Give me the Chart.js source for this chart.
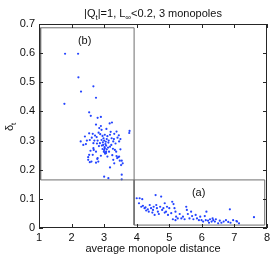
<!DOCTYPE html>
<html>
<head>
<meta charset="utf-8">
<script src="https://cdn.jsdelivr.net/npm/chart.js@4.4.1/dist/chart.umd.min.js"></script>
<style>
  body { margin: 0; background: #fff; }
  canvas { display: block; }
</style>
</head>
<body>
<canvas id="c" width="274" height="256"></canvas>
<script>
// cluster (b): large delta, short distance
const clusterB = [
  [1.80,0.598],[2.20,0.598],[2.21,0.517],[2.67,0.486],[2.29,0.468],[2.75,0.447],[1.78,0.426],
  [2.54,0.397],[2.59,0.385],[2.80,0.378],[2.90,0.381],[2.75,0.355],[3.17,0.359],[3.24,0.362],
  [3.77,0.326],[3.78,0.333],
  [3.00,0.176],[3.13,0.171],[3.54,0.183],[3.54,0.167],
  [2.51,0.243],[2.56,0.226],[2.75,0.224],[2.79,0.237],[3.18,0.208],[3.31,0.222],[3.43,0.243],
  [3.48,0.231],[3.52,0.216],[3.57,0.222],[3.38,0.247],[3.02,0.259],[2.65,0.251],
  [2.85,0.343],[2.92,0.337],[3.38,0.331],[3.31,0.323],[2.54,0.325],[2.65,0.323],[2.41,0.314],
  [2.72,0.317],[2.77,0.312],[2.95,0.316],[3.02,0.320],[3.18,0.320],[3.50,0.305],[3.46,0.297],
  [2.28,0.297],[2.36,0.285],[2.56,0.302],[2.67,0.291],[2.80,0.300],[2.87,0.291],[2.92,0.302],
  [3.08,0.305],[3.13,0.293],[3.23,0.308],[3.28,0.297],[2.97,0.285],[3.02,0.274],[3.00,0.268],
  [3.06,0.262],[3.06,0.257],[3.18,0.279],[3.33,0.268],[3.46,0.245],[2.67,0.274],[2.75,0.262],
  [2.54,0.251],[2.51,0.234],[2.61,0.228],[2.80,0.240],[2.82,0.228],[3.28,0.234],[3.40,0.240],
  [3.54,0.231],
  [2.88,0.322],[2.98,0.308],[3.05,0.296],[3.10,0.315],[2.93,0.283],[3.04,0.288],[3.12,0.276],
  [2.99,0.262],[3.03,0.255],[3.08,0.270],[2.95,0.271],[3.15,0.262],[3.22,0.285],[3.27,0.272],
  [2.84,0.281],[2.70,0.300],[2.62,0.310],[2.47,0.300],[2.44,0.288],[3.35,0.290],[3.41,0.310],
  [3.45,0.318],[3.30,0.305],[3.20,0.330],[2.90,0.350],[3.07,0.340],[2.83,0.327],[2.68,0.268],
  [2.58,0.265],[3.25,0.250],[3.10,0.245],[2.90,0.248],[3.37,0.262],[3.50,0.270],[2.78,0.290],
  [3.00,0.300],[3.14,0.300],[2.96,0.294],[3.01,0.278],[3.06,0.283]
];

// cluster (a): small delta, long distance
const clusterA = [
  [4.00,0.102],[4.09,0.102],[4.17,0.099],[4.19,0.076],[4.24,0.068],[4.29,0.060],[4.34,0.064],
  [4.37,0.056],[4.44,0.068],[4.50,0.062],[4.52,0.073],[4.58,0.113],[4.60,0.079],[4.62,0.068],
  [4.65,0.056],[4.68,0.048],[4.72,0.073],[4.75,0.108],[4.78,0.062],[4.82,0.068],[4.86,0.053],
  [4.90,0.056],[4.96,0.045],[5.00,0.068],[5.09,0.090],[5.13,0.082],[5.16,0.068],[5.19,0.056],
  [5.21,0.039],[5.26,0.033],[5.32,0.048],[5.37,0.033],[5.42,0.039],[5.47,0.030],[5.52,0.073],
  [5.54,0.062],[5.57,0.048],[5.62,0.033],[5.67,0.056],[5.70,0.041],[5.74,0.030],[5.81,0.045],
  [5.85,0.033],[5.91,0.027],[5.95,0.039],
  [4.07,0.085],[4.14,0.073],[4.40,0.079],[4.48,0.053],[4.55,0.045],[4.27,0.071],[4.86,0.085],
  [4.93,0.073],[5.06,0.051],[5.11,0.030],[5.19,0.027],
  [6.14,0.056],[6.09,0.041],[6.12,0.027],[6.19,0.025],[6.25,0.030],[6.30,0.022],[6.35,0.027],
  [6.40,0.022],[6.22,0.018],[6.04,0.022],[5.99,0.027],[6.33,0.033],[6.55,0.025],[6.60,0.018],
  [6.67,0.022],[6.74,0.027],[6.86,0.064],[6.88,0.018],[6.81,0.021],[7.08,0.022],[7.14,0.016],
  [7.60,0.037],[6.50,0.016],[6.43,0.030],[6.96,0.027],[7.06,0.024]
];

// region outlines [xmin, xmax, ymin, ymax]
const regionB = [1.05, 3.92, 0.165, 0.687];
const regionA = [3.92, 7.93, 0.010, 0.165];
const regionLabels = [['(b)', 2.4, 0.645], ['(a)', 5.9, 0.122]];

const xTicks = [1, 2, 3, 4, 5, 6, 7, 8];
const yTicks = [0, 0.1, 0.2, 0.3, 0.4, 0.5, 0.6, 0.7];

const FONT = 'Liberation Sans, Arial, sans-serif';

function toPts(list) {
  return list.map(p => ({ x: p[0], y: p[1] }));
}
function rect(r) {
  return [
    { x: r[0], y: r[2] }, { x: r[1], y: r[2] }, { x: r[1], y: r[3] },
    { x: r[0], y: r[3] }, { x: r[0], y: r[2] }
  ];
}

// text, ticks and frame in matlab style
const decor = {
  id: 'decor',
  afterDraw(chart) {
    const c = chart.ctx;
    const a = chart.chartArea;
    const xs = chart.scales.x, ys = chart.scales.y;
    c.save();
    c.strokeStyle = '#262626';
    c.lineWidth = 1;
    c.strokeRect(a.left + 0.5, a.top + 0.5, a.right - a.left - 1, a.bottom - a.top - 1);
    c.beginPath();
    xTicks.forEach(v => {
      const px = Math.round(xs.getPixelForValue(v)) + 0.5;
      c.moveTo(px, a.bottom); c.lineTo(px, a.bottom - 4);
      c.moveTo(px, a.top); c.lineTo(px, a.top + 4);
    });
    yTicks.forEach(v => {
      const py = Math.round(ys.getPixelForValue(v)) + 0.5;
      c.moveTo(a.left, py); c.lineTo(a.left + 4, py);
      c.moveTo(a.right, py); c.lineTo(a.right - 4, py);
    });
    c.stroke();

    c.fillStyle = '#111';
    c.textBaseline = 'alphabetic';
    // labels inside the region boxes
    c.font = '11px ' + FONT;
    c.textAlign = 'center';
    regionLabels.forEach(l => {
      c.fillText(l[0], xs.getPixelForValue(l[1]), ys.getPixelForValue(l[2]) + 4);
    });

    // title with subscripts
    const parts = [['|Q', 0], ['t', 1], ['|=1, L', 0], ['\u221e', 1], ['<0.2, 3 monopoles', 0]];
    let w = 0;
    parts.forEach(p => {
      c.font = (p[1] ? '8px ' : '11px ') + FONT;
      w += c.measureText(p[0]).width;
    });
    let x = (a.left + a.right) / 2 - w / 2;
    c.textAlign = 'left';
    parts.forEach(p => {
      c.font = (p[1] ? '8px ' : '11px ') + FONT;
      c.fillText(p[0], x, p[1] ? 20 : 17);
      x += c.measureText(p[0]).width;
    });

    // x axis title
    c.font = '11px ' + FONT;
    c.textAlign = 'center';
    c.fillText('average monopole distance', (a.left + a.right) / 2, 252);

    // y axis title
    c.translate(13, (a.top + a.bottom) / 2);
    c.rotate(-Math.PI / 2);
    c.font = '11px ' + FONT;
    c.textAlign = 'left';
    const dw = c.measureText('\u03b4').width;
    c.fillText('\u03b4', -dw / 2 - 2, 0);
    c.font = '8px ' + FONT;
    c.fillText('t', dw / 2 - 2, 3);
    c.restore();
  }
};

const boxStyle = {
  type: 'line', borderColor: '#6e6e6e', borderWidth: 1, pointRadius: 0,
  fill: false, tension: 0, showLine: true
};

new Chart(document.getElementById('c'), {
  type: 'scatter',
  data: {
    datasets: [
      Object.assign({ data: rect(regionB) }, boxStyle),
      Object.assign({ data: rect(regionA) }, boxStyle),
      { data: toPts(clusterB), backgroundColor: '#2444ff', borderWidth: 0, pointRadius: 1.1 },
      { data: toPts(clusterA), backgroundColor: '#2444ff', borderWidth: 0, pointRadius: 1.1 }
    ]
  },
  options: {
    responsive: false,
    animation: false,
    events: [],
    layout: { padding: { top: 24, right: 7, left: 0, bottom: 0 } },
    plugins: { legend: { display: false }, tooltip: { enabled: false }, title: { display: false } },
    scales: {
      x: {
        type: 'linear', min: 1, max: 8,
        grid: { display: false, drawTicks: false, tickLength: 0 }, border: { display: false },
        ticks: { stepSize: 1, padding: 3, color: '#111', font: { family: FONT, size: 11 } },
        afterFit: s => { s.height = 28; }
      },
      y: {
        type: 'linear', min: 0, max: 0.7,
        grid: { display: false, drawTicks: false, tickLength: 0 }, border: { display: false },
        ticks: {
          stepSize: 0.1, padding: 4, color: '#111', font: { family: FONT, size: 11 },
          callback: v => String(+v.toFixed(1))
        },
        afterFit: s => { s.width = 39; }
      }
    }
  },
  plugins: [decor]
});
</script>
</body>
</html>
